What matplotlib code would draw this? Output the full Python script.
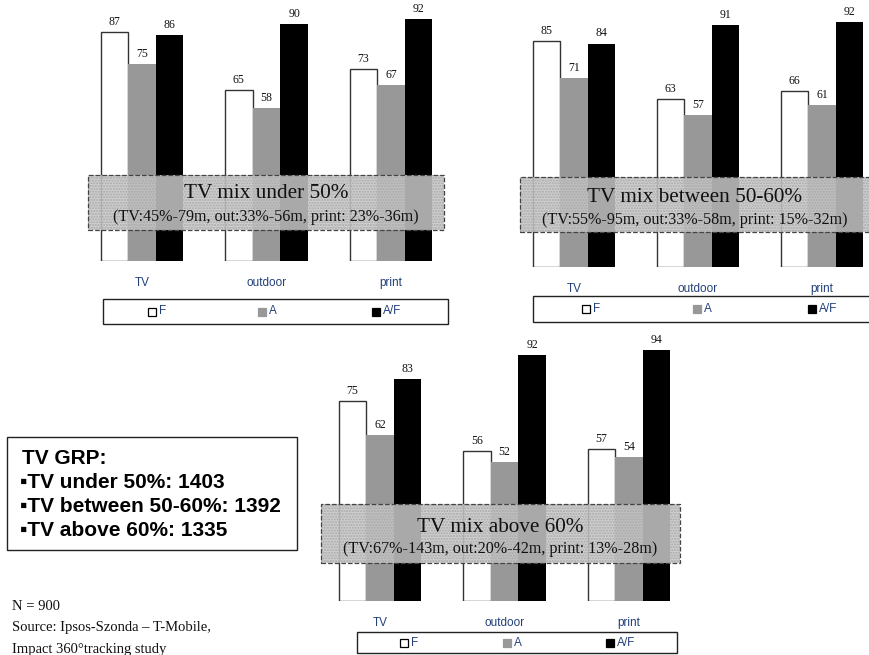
import matplotlib
matplotlib.use("Agg")
import matplotlib.pyplot as plt
from matplotlib.patches import Rectangle

# ---- data -------------------------------------------------------------
categories = ["TV", "outdoor", "print"]
series_names = ["F", "A", "A/F"]

under50_F = [87, 65, 73]
under50_A = [75, 58, 67]
under50_AF = [86, 90, 92]

mid_F = [85, 63, 66]
mid_A = [71, 57, 61]
mid_AF = [84, 91, 92]

above60_F = [75, 56, 57]
above60_A = [62, 52, 54]
above60_AF = [83, 92, 94]

titles = ["TV mix under 50%", "TV mix between 50-60%", "TV mix above 60%"]
subtitles = [
    "(TV:45%-79m, out:33%-56m, print: 23%-36m)",
    "(TV:55%-95m, out:33%-58m, print: 15%-32m)",
    "(TV:67%-143m, out:20%-42m, print: 13%-28m)",
]

grp_lines = ["TV GRP:", "\u25aaTV under 50%: 1403",
             "\u25aaTV between 50-60%: 1392", "\u25aaTV above 60%: 1335"]
footer_lines = ["N = 900", "Source: Ipsos-Szonda \u2013 T-Mobile,",
                "Impact 360\u00b0tracking study"]

# ---- styling ----------------------------------------------------------
W, H = 870, 655
DPI = 100
SERIF = ["Liberation Serif", "DejaVu Serif"]
SANS = ["Liberation Sans", "DejaVu Sans"]
NAVY = "#23407a"
bar_colors = ["white", "#989898", "black"]

fig = plt.figure(figsize=(W / DPI, H / DPI), dpi=DPI)


def fx(px):
    return px / W


def fy(py):
    return 1 - py / H


def panel(center0, spacing, baseline, scale, F, A, AF,
          box, title, subtitle, title_y, sub_y, legend_box, legend_x):
    left = center0 - spacing / 2
    width = spacing * 3
    height = 100 * scale
    ax = fig.add_axes([fx(left), fy(baseline), width / W, height / H])
    ax.set_xlim(-0.5, 2.5)
    ax.set_ylim(0, 100)
    for s in ax.spines.values():
        s.set_visible(False)
    ax.set_yticks([])
    ax.patch.set_alpha(0)

    bw = 0.222
    for k, vals in enumerate([F, A, AF]):
        xs = [i + (k - 1) * bw for i in range(len(categories))]
        bars = ax.bar(xs, vals, width=bw, color=bar_colors[k],
                      edgecolor="#333333" if k == 0 else "none",
                      linewidth=1.0 if k == 0 else 0, zorder=2)
        for b, v in zip(bars, vals):
            ax.annotate(f"{v}", (b.get_x() + b.get_width() / 2, v),
                        xytext=(0, 3), textcoords="offset points",
                        ha="center", va="bottom", fontsize=8.5,
                        family=SERIF, color="#111111", annotation_clip=False)

    ax.set_xticks(range(len(categories)))
    ax.set_xticklabels(categories, family=SANS, fontsize=8.5, color=NAVY)
    ax.tick_params(axis="x", length=0, pad=11.5)

    # translucent caption box over the bars
    x0, y0, x1, y1 = box
    rect = Rectangle((fx(x0), fy(y1)), fx(x1) - fx(x0), fy(y0) - fy(y1),
                     transform=fig.transFigure, facecolor="#c6c6c6",
                     alpha=0.86, edgecolor="none", zorder=5)
    fig.add_artist(rect)
    stipple = Rectangle((fx(x0), fy(y1)), fx(x1) - fx(x0), fy(y0) - fy(y1),
                        transform=fig.transFigure, facecolor="none",
                        edgecolor="#a9a9a9", linewidth=0, hatch="......",
                        zorder=6)
    fig.add_artist(stipple)
    border = Rectangle((fx(x0), fy(y1)), fx(x1) - fx(x0), fy(y0) - fy(y1),
                       transform=fig.transFigure, facecolor="none",
                       edgecolor="#444444", linewidth=0.9, linestyle="--",
                       zorder=7)
    fig.add_artist(border)
    cx = (x0 + x1) / 2 if x1 <= W else (legend_x[0] + legend_x[2]) / 2
    fig.text(fx(cx), fy(title_y), title, ha="center", va="center",
             fontsize=15.3, family=SERIF, color="#111111", zorder=8)
    fig.text(fx(cx), fy(sub_y), subtitle, ha="center", va="center",
             fontsize=11.6, family=SERIF, color="#111111", zorder=8)

    # legend strip
    lx0, ly0, lx1, ly1 = legend_box
    fig.add_artist(Rectangle((fx(lx0), fy(ly1)), fx(lx1) - fx(lx0),
                             fy(ly0) - fy(ly1), transform=fig.transFigure,
                             facecolor="white", edgecolor="#222222",
                             linewidth=1.0, zorder=4))
    ly = (ly0 + ly1) / 2
    for name, col, mx in zip(series_names, bar_colors, legend_x):
        fig.add_artist(Rectangle((fx(mx), fy(ly + 4)), 8 / W, 8 / H,
                                 transform=fig.transFigure, facecolor=col,
                                 edgecolor="black" if col == "white" else col,
                                 linewidth=0.9, zorder=5))
        fig.text(fx(mx + 11), fy(ly), name, ha="left", va="center",
                 fontsize=8.5, family=SANS, color=NAVY, zorder=6)


panel(142, 124.5, 261, 2.63, under50_F, under50_A, under50_AF,
      (88, 175, 444, 230), titles[0], subtitles[0], 193, 217,
      (103, 299, 448, 324), [148, 258, 372])

panel(574, 124, 267, 2.66, mid_F, mid_A, mid_AF,
      (520, 177, 876, 232), titles[1], subtitles[1], 197, 220,
      (533, 296, 880, 322), [582, 693, 808])

panel(380, 124.5, 601, 2.67, above60_F, above60_A, above60_AF,
      (321, 504, 680, 563), titles[2], subtitles[2], 527, 549,
      (357, 632, 677, 653), [400, 503, 606])

# GRP summary box
fig.add_artist(Rectangle((fx(7), fy(550)), fx(297) - fx(7), fy(437) - fy(550),
                         transform=fig.transFigure, facecolor="white",
                         edgecolor="#222222", linewidth=1.0, zorder=3))
for i, line in enumerate(grp_lines):
    fig.text(fx(22 if i == 0 else 20), fy(458 + i * 24), line,
             ha="left", va="center", fontsize=15, fontweight="bold",
             family=SANS, color="black", zorder=4)

# footer notes
for i, line in enumerate(footer_lines):
    fig.text(fx(12), fy(607 + i * 21), line, ha="left", va="center",
             fontsize=10.5, family=SERIF, color="#111111")

fig.savefig("out.png", dpi=DPI)
